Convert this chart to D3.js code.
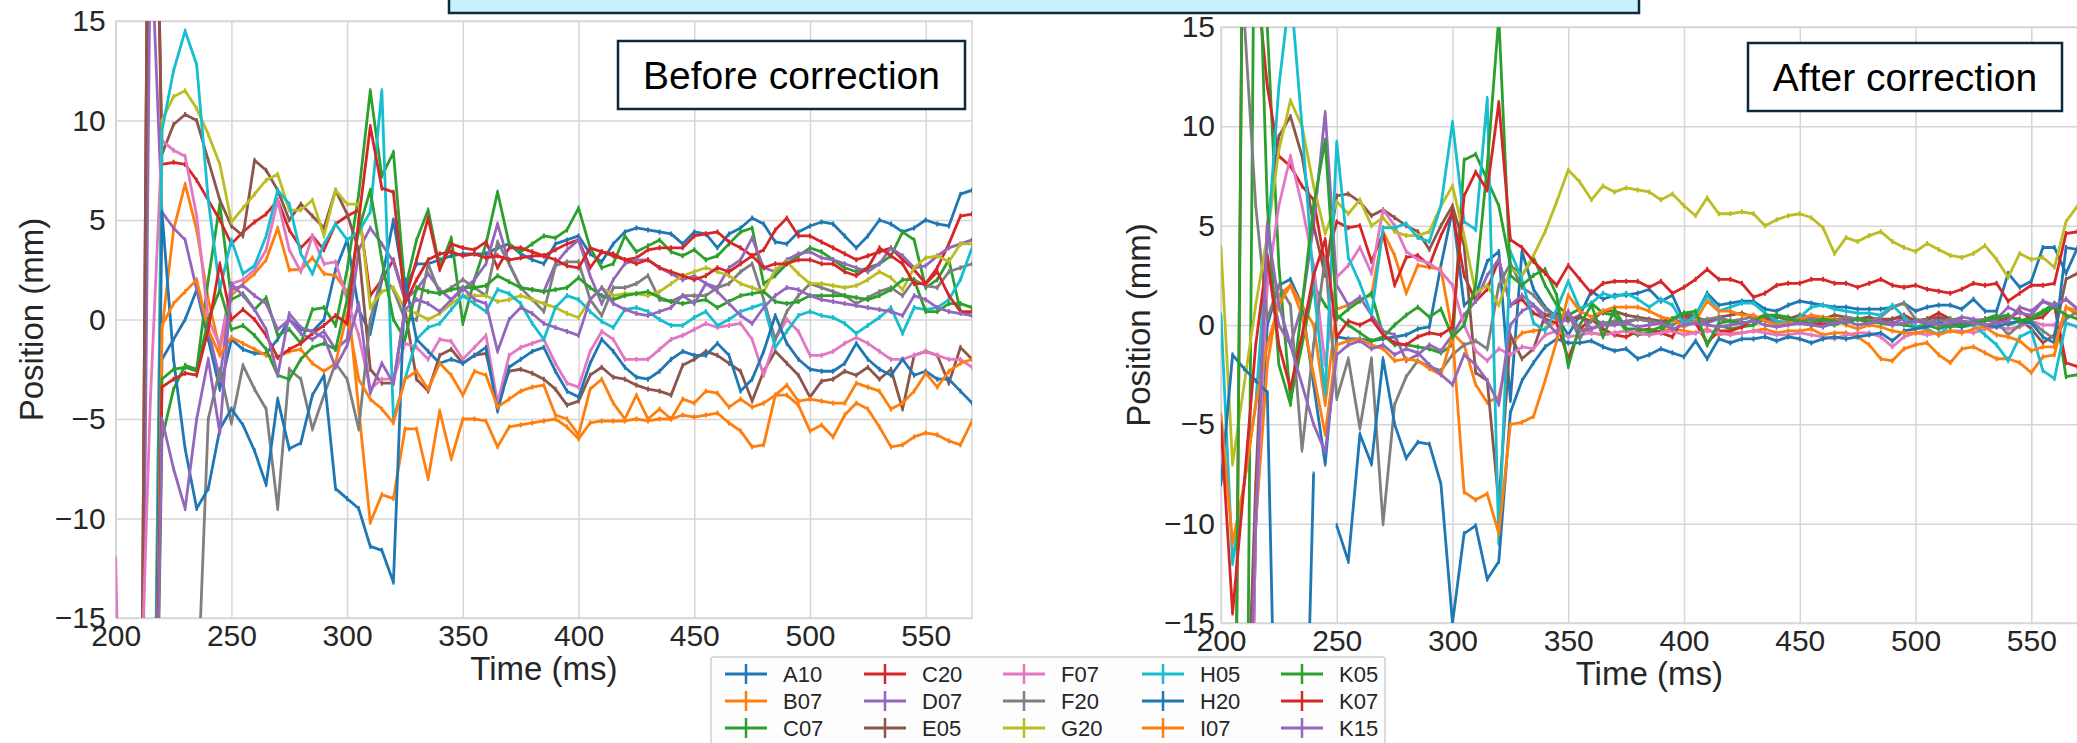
<!DOCTYPE html>
<html><head><meta charset="utf-8">
<script src="https://cdn.jsdelivr.net/npm/d3@7"></script>
<style>html,body{margin:0;padding:0;background:#fff;overflow:hidden}svg{display:block;font-family:"Liberation Sans",Arial,Helvetica,sans-serif}</style>
</head><body><svg id="c" width="2077" height="743"></svg>
<script>
const TIME = [200,205,210,215,220,225,230,235,240,245,250,255,260,265,270,275,280,285,290,295,300,305,310,315,320,325,330,335,340,345,350,355,360,365,370,375,380,385,390,395,400,405,410,415,420,425,430,435,440,445,450,455,460,465,470,475,480,485,490,495,500,505,510,515,520,525,530,535,540,545,550,555,560,565,570];
const SERIES = ["A10","B07","C07","C20","D07","E05","F07","F20","G20","H05","H20","I07","K05","K07","K15"];
const COLORS = ["#1f77b4","#ff7f0e","#2ca02c","#d62728","#9467bd","#8c564b","#e377c2","#7f7f7f","#bcbd22","#17becf","#1f77b4","#ff7f0e","#2ca02c","#d62728","#9467bd"];
const X_TICKS = [200,250,300,350,400,450,500,550];
const Y_TICKS = [-15,-10,-5,0,5,10,15];
const PANEL_TITLES = ["Before correction","After correction"];

// ---------- Before correction ----------
const before_A10 = [-40,-40,-40,-40,-2.0,-1.0,0.0,1.5,-1.0,-3.5, -1.0,-1.5,-1.7,-1.7,-1.0,0.0,-0.5,-0.6,0.0,2.5, 4.0,0.5,-0.7,2.0,5.0,1.5,2.8,2.8,3.0,3.2, 3.3,3.3,3.3,3.6,3.8,3.3,3.0,2.8,3.8,4.0, 4.2,3.3,2.9,3.8,4.4,4.6,4.5,4.4,4.3,3.8, 4.4,4.3,3.6,4.3,4.6,5.1,4.8,3.9,3.8,4.4, 4.7,4.9,4.8,4.2,3.6,4.2,5.0,4.8,4.4,4.6, 5.0,4.8,4.7,6.3,6.5];
const before_B07 = [-40,-40,-40,-40,-0.5,4.5,6.8,4.5,1.0,-1.5, 1.2,1.8,2.3,3.0,4.6,2.5,2.5,3.1,2.3,2.2, 1.4,-4.5,-10.2,-8.8,-9.0,-5.5,-5.5,-8.0,-4.6,-7.0, -5.0,-5.0,-5.1,-6.4,-5.4,-5.3,-5.2,-5.1,-5.0,-5.4, -6.0,-5.2,-5.1,-5.1,-5.1,-5.0,-5.1,-5.0,-5.0,-4.8, -4.9,-4.8,-4.7,-5.2,-5.6,-6.4,-6.3,-3.8,-3.8,-4.3, -5.6,-5.3,-5.9,-4.8,-4.2,-4.5,-5.4,-6.4,-6.3,-5.9, -5.7,-5.8,-6.1,-6.3,-5.1];
const before_C07 = [-40,-40,-40,-40,-6.0,-3.5,-2.3,-2.5,2.0,5.8, 1.0,1.3,0.5,1.1,-0.8,-0.5,-1.2,0.5,0.6,-0.3, 2.5,6.3,11.5,7.2,8.4,1.5,4.0,5.5,2.6,4.1, -0.2,2.0,3.8,6.4,3.8,3.4,3.8,4.2,4.1,4.5, 5.6,3.6,2.6,2.8,4.2,3.4,3.7,4.0,3.4,3.2, 3.5,3.0,3.2,3.8,4.4,4.6,1.8,2.2,2.8,3.2, 3.6,3.4,3.0,2.6,2.4,2.6,2.8,3.2,4.4,4.0, 1.6,2.0,3.0,0.4,0.2];
const before_C20 = [-40,-40,-40,40,7.8,7.9,7.8,7.0,6.0,5.0, 3.8,4.4,4.9,5.3,6.0,4.5,3.6,4.2,3.5,4.8, 5.2,5.5,1.2,2.0,3.0,1.0,3.0,5.1,2.5,3.8, 3.6,3.5,3.9,2.6,3.6,3.6,3.4,3.2,3.5,3.8, 4.0,2.6,3.4,3.3,3.0,3.1,3.5,3.6,3.6,3.6, 4.2,4.3,4.4,3.9,3.6,3.2,3.5,4.5,5.1,4.2, 4.2,3.9,3.6,3.3,3.0,3.2,3.4,3.6,3.0,2.5, 1.8,2.6,3.8,5.2,5.3];
const before_D07 = [-40,-40,-40,20,5.4,4.6,4.0,1.5,-0.5,-3.0, 1.5,1.7,1.2,0.8,-0.5,0.0,-0.7,-1.0,-0.6,-1.5, -1.0,3.5,4.6,3.8,2.9,1.0,1.5,2.3,1.5,1.0, 1.5,2.0,2.8,4.8,2.8,1.6,1.5,1.4,2.8,3.5, 4.0,2.2,0.8,2.0,2.8,3.0,3.0,2.6,2.3,2.0, 2.2,1.8,1.6,2.6,3.0,4.1,2.6,2.4,3.0,3.3, 3.4,3.1,3.0,2.8,2.6,2.4,2.8,3.6,3.2,2.6, 2.7,3.2,3.6,3.8,4.0];
const before_E05 = [-40,-40,-40,40,8.3,9.8,10.3,10.0,8.0,6.0, 4.7,4.2,8.0,7.5,6.5,5.0,5.8,5.2,4.6,6.5, 5.3,3.5,-2.5,-3.2,-3.2,0.5,-3.0,-3.6,-1.8,-1.5, -2.2,-1.8,-1.7,-4.2,-2.6,-2.5,-2.7,-3.0,-3.5,-4.3, -4.1,-2.8,-2.4,-2.9,-3.0,-3.3,-3.5,-3.6,-3.8,-2.3, -2.0,-1.6,-1.8,-2.2,-2.6,-4.1,-2.6,-1.6,-2.2,-2.8, -3.9,-3.1,-3.0,-2.6,-2.8,-2.4,-3.0,-2.5,-4.5,-1.8, -1.6,-1.8,-3.2,-1.4,-2.0];
const before_F07 = [-12,-40,-22,-4,9.0,8.5,8.2,5.2,0.0,-1.3, 1.8,2.0,2.5,3.5,6.0,3.5,2.4,4.2,2.8,2.9, 1.0,-0.8,-3.5,-3.0,-3.0,-1.2,-1.4,-2.0,-1.0,-1.1, -2.0,-1.4,-0.8,-4.2,-1.8,-1.4,-1.2,-1.0,-2.2,-3.2, -3.4,-1.6,-0.6,-1.0,-2.0,-2.0,-2.0,-1.5,-1.0,-0.8, -0.5,-0.2,-0.4,-0.3,-0.2,-1.0,-2.8,-1.0,0.0,-0.6, -1.8,-1.8,-1.6,-1.2,-0.9,-1.2,-1.6,-2.0,-2.0,-1.8, -1.6,-1.8,-2.0,-2.0,-2.4];
const before_F20 = [-40,-40,-40,-40,-40,-40,-40,-20,-5.0,-2.5, -5.2,-2.3,-3.5,-4.5,-9.5,-2.5,-3.0,-5.5,-3.8,-2.2, -3.0,-5.5,0.0,2.2,1.5,0.0,0.0,2.8,1.3,1.6, 2.0,1.6,1.2,3.9,2.8,1.6,1.0,0.4,2.7,2.9, 2.9,1.0,0.2,1.6,1.6,1.8,2.2,1.0,0.9,1.2, 1.2,1.2,1.6,1.8,2.4,2.8,1.0,-1.0,0.4,1.2, 1.8,1.6,1.4,1.2,0.8,1.1,1.4,1.6,1.2,2.0, 1.7,1.6,2.4,2.6,2.8];
const before_G20 = [-40,-40,-40,-40,10.0,11.2,11.5,10.6,9.3,7.8, 4.9,5.6,6.3,7.0,7.3,5.5,5.5,6.0,4.2,6.5, 5.8,5.8,0.6,1.4,1.6,0.5,0.3,0.0,0.3,0.8, 1.2,1.2,1.2,0.9,1.0,1.2,1.0,0.8,0.6,0.3, 0.1,1.0,1.6,1.2,1.3,1.3,1.2,1.4,1.8,2.2, 2.4,2.6,2.4,2.2,1.8,1.6,1.4,2.5,2.9,2.3, 1.8,1.8,1.7,1.6,1.7,2.0,2.4,2.1,1.5,2.6, 3.1,3.2,2.9,3.8,3.8];
const before_H05 = [-40,-40,-40,-40,9.5,12.5,14.5,12.8,6.0,1.5, 4.0,2.3,2.7,4.2,6.5,5.8,3.3,2.3,3.8,4.8, 4.0,4.4,5.4,11.5,-5.0,-3.0,-1.0,-0.4,-0.2,0.5, 1.2,0.8,0.4,1.5,1.3,0.8,-0.2,-1.0,0.6,1.2, 1.0,0.4,-0.1,-0.4,0.5,0.6,0.4,0.0,-0.3,-0.3, 0.1,0.4,-0.3,0.0,0.4,0.6,0.8,-1.4,-0.6,0.2, 0.4,0.2,0.1,-0.2,-0.7,-0.3,0.1,0.6,-0.7,0.6, 0.5,0.6,1.0,2.0,3.6];
const before_H20 = [-40,-40,-40,-40,5.4,-2.0,-6.5,-9.5,-8.5,-5.5, -4.5,-5.3,-6.6,-8.3,-4.0,-6.5,-6.2,-3.8,-2.8,-8.5, -9.0,-9.5,-11.4,-11.6,-13.2,2.0,-1.0,-1.6,-2.2,-2.0, -2.2,-1.8,-1.4,-4.6,-2.4,-2.0,-1.6,-1.4,-2.6,-3.6, -3.9,-2.2,-1.0,-1.6,-2.4,-2.9,-3.0,-2.6,-2.0,-1.6, -1.8,-1.8,-1.2,-1.8,-3.6,-3.0,-1.6,0.2,-1.2,-2.0, -2.5,-2.6,-2.6,-2.2,-1.2,-2.0,-2.5,-2.8,-2.0,-2.8, -2.6,-3.0,-3.0,-3.6,-4.2];
const before_I07 = [-40,-40,-40,-40,-0.3,0.8,1.4,2.0,-0.5,-1.8, -0.9,-1.2,-1.5,-1.8,-1.9,-1.6,-1.5,-2.2,-2.6,-2.2, 0.3,-3.0,-4.0,-4.5,-5.2,-3.0,-2.6,-3.5,-2.2,-2.8, -3.8,-2.6,-2.8,-4.4,-4.0,-3.6,-3.4,-3.3,-4.8,-5.0, -5.8,-3.5,-3.0,-4.2,-5.0,-3.8,-5.0,-4.5,-5.0,-4.0, -4.2,-3.6,-3.7,-4.4,-4.0,-4.4,-4.2,-3.8,-3.3,-4.1, -4.0,-4.1,-4.2,-4.2,-3.2,-3.4,-3.6,-4.5,-4.2,-3.6, -2.7,-3.4,-2.6,-2.2,-2.0];
const before_K05 = [-40,-40,-40,-40,-3.0,-2.5,-2.4,-2.6,0.0,1.5, -0.5,-0.3,-0.8,-1.5,-2.8,-3.0,-2.0,-1.4,-1.2,-1.5, 1.0,4.5,6.5,3.0,0.0,-1.0,1.6,1.4,1.3,1.5, 1.6,1.6,1.7,2.2,1.9,1.6,1.5,1.4,1.5,1.6, 2.1,1.6,1.2,1.0,1.2,1.3,1.4,1.1,0.9,0.8, 0.9,1.0,0.6,0.9,1.2,1.3,1.4,0.9,0.8,0.9, 1.2,1.2,1.2,1.2,1.1,1.0,1.2,1.5,2.0,2.0, 0.4,0.4,0.8,0.8,0.6];
const before_K07 = [-40,-40,-40,-40,-3.4,-3.0,-2.7,-2.8,-0.5,2.8, 0.0,0.5,0.0,-0.8,-1.9,-1.5,-1.2,-0.7,-0.3,0.2, -0.2,5.0,9.7,6.6,6.4,0.8,2.0,3.0,3.3,3.4, 3.2,3.3,3.1,3.2,3.0,3.1,3.2,3.2,3.0,2.7, 2.6,3.6,3.4,3.2,3.0,2.8,3.0,2.6,2.4,2.2, 2.0,2.2,2.6,2.4,2.8,3.2,2.6,2.8,2.8,3.0, 3.0,2.8,2.8,2.4,2.2,2.6,3.6,3.2,2.8,1.8, 1.8,2.4,1.2,0.4,0.4];
const before_K15 = [-40,-40,-40,-40,-5.0,-7.5,-9.5,-5.0,-2.0,-5.7, 1.8,1.2,0.5,-0.5,-2.8,0.3,-0.4,-0.6,-0.9,-2.4, -1.3,0.8,-3.7,-2.2,-3.2,0.5,1.0,0.8,0.4,1.0, 1.6,1.0,0.8,-1.6,0.0,0.6,0.3,-0.2,-0.4,-0.6, -0.8,1.0,1.6,0.8,0.5,0.3,0.2,0.4,0.6,1.2, 0.8,1.8,1.4,0.8,0.2,-0.2,0.6,1.2,1.6,1.5, 1.2,1.0,0.9,0.8,0.7,0.6,0.5,0.4,0.2,1.2, 1.0,0.6,0.4,0.3,0.2];

// ---------- After correction ----------
const after_A10 = [-40,-40,-40,-10,0.0,2.0,2.3,1.0,-3.0,-7.0, -0.6,-0.7,-0.7,-0.8,-0.7,-0.6,-0.5,-0.2,-0.1,3.0, 5.8,1.0,1.5,3.2,3.7,-3.8,3.7,1.8,0.9,0.4, -0.5,0.5,1.7,1.3,1.5,1.5,1.6,1.8,1.2,1.5, 0.2,0.5,1.6,1.0,1.1,1.2,1.2,0.8,0.7,1.0, 1.2,1.1,1.0,0.9,0.9,0.8,0.8,0.8,0.9,1.1, 0.7,0.9,1.0,1.0,0.8,1.3,0.7,0.7,2.6,1.9, 2.2,3.9,3.9,2.6,3.9];
const after_B07 = [-40,-40,-30,-10,-2.0,1.5,2.0,1.0,0.0,-4.0, 0.8,1.0,1.3,1.5,4.7,3.5,1.6,3.0,2.9,2.8, -0.4,-1.0,-3.0,-3.9,-3.6,-1.0,-0.4,-0.3,-0.2,0.2, 0.4,-0.1,-0.4,-0.5,-0.4,-0.3,-0.4,-0.5,-0.3,-0.2, -0.3,-0.4,-0.2,-0.5,-0.4,-0.4,-0.3,-0.2,-0.4,-0.3, -0.3,-0.2,-0.5,-0.4,-0.4,-0.6,-1.0,-1.7,-1.8,-1.2, -1.0,-0.9,-1.5,-1.9,-1.2,-1.1,-1.4,-1.7,-1.7,-1.9, -2.4,-1.6,-1.5,0.9,0.5];
const after_C07 = [-40,-40,-40,30,15,3.0,-3.8,-1.0,2.0,1.0, 0.3,0.8,1.2,1.6,-0.5,-1.0,-1.0,-1.1,-1.2,-1.4, -1.0,8.3,8.6,7.3,6.0,3.0,2.5,3.4,2.0,1.0, 0.5,0.8,1.1,0.6,0.5,-0.3,-0.5,-0.4,-0.3,0.3, 0.6,0.5,-1.0,0.0,-0.2,-0.1,0.0,0.3,0.5,0.4, 0.2,0.3,0.1,0.0,0.2,0.3,0.1,0.2,0.1,0.0, -0.1,0.0,-0.2,0.0,0.1,0.2,0.3,0.5,0.0,0.2, 0.4,0.7,1.1,-2.6,-2.5];
const after_C20 = [-40,-40,30,18,12,8.5,8.0,7.0,6.3,3.0, 5.2,4.9,5.0,3.2,4.6,2.0,3.4,3.5,3.0,4.5, 5.7,2.5,1.2,1.8,3.3,1.0,1.3,0.6,0.3,0.1, -1.7,-0.2,0.3,-0.2,-0.5,-0.6,-0.3,-0.2,-0.4,-0.6, 0.4,0.1,-0.9,-0.3,-0.3,-0.1,0.3,0.5,0.4,0.3, 0.1,0.0,0.1,0.3,0.3,0.3,0.1,0.3,0.3,0.5, 0.2,0.3,0.6,0.3,0.1,0.1,0.3,0.1,0.3,0.7, 0.3,0.4,1.0,-1.9,-2.1];
const after_D07 = [-40,-40,-40,-10,3.0,0.0,-1.0,1.0,5.0,10.7, 2.0,1.0,1.4,0.5,-0.3,-0.5,-1.8,-1.5,-1.0,-1.3, -0.5,0.5,1.2,2.5,3.3,1.0,1.5,1.0,0.5,0.3, 0.2,0.5,-0.2,0.1,0.1,0.2,0.3,0.2,0.1,0.3, 0.1,0.2,0.1,0.3,0.2,0.1,0.2,0.3,0.2,0.1, 0.2,0.3,0.2,0.1,0.2,0.3,0.4,0.2,0.1,0.3, 0.2,0.1,0.3,0.2,0.4,0.3,0.2,0.3,0.9,0.6, 0.5,1.2,0.9,1.3,0.8];
const after_E05 = [-16,-30,-25,-8,5,9.5,10.5,8.5,5.0,2.5, 6.5,6.6,6.2,5.5,5.8,5.4,5.0,4.7,3.8,5.0, 6.0,4.0,-2.4,-2.8,-9.0,-0.5,-1.7,-1.2,0.5,0.6, 0.3,0.4,0.2,0.7,0.7,0.5,0.4,0.3,0.2,0.3, 0.5,0.4,0.2,0.4,0.5,0.6,0.4,0.3,0.4,0.3, 0.5,0.4,0.3,0.5,0.4,0.3,0.4,0.2,0.3,0.4, 0.2,0.3,0.4,0.3,0.2,0.1,0.3,0.2,0.4,0.3, -0.2,-0.9,-0.5,2.3,2.6];
const after_F07 = [-40,-40,-40,-10,2.0,6.0,8.5,6.0,3.0,-2.0, 2.4,3.0,3.9,2.6,5.8,5.0,3.7,3.3,3.1,2.7, 2.0,0.0,-1.3,-1.8,-1.2,-1.5,-1.1,-1.2,-0.5,-0.3, -0.6,-0.5,-0.4,-0.5,-0.4,-0.3,-0.4,-0.5,-0.4,-0.3, -0.5,-0.4,-0.3,-0.4,-0.5,-0.4,-0.3,-0.4,-0.5,-0.5, -0.4,-0.5,-0.6,-0.7,-0.5,-0.4,-0.4,-0.6,-1.1,-0.6, -0.4,-0.5,-0.4,-0.3,-0.3,-0.4,-0.2,-0.1,-0.2,-0.1, 0.2,0.0,0.0,0.1,-0.1];
const after_F20 = [25,20,15.5,6.0,0.3,2.0,1.0,-6.3,-1.0,3.4, -3.7,-1.7,-5.2,-1.7,-10.0,-4.0,-2.6,-1.8,-2.1,-2.3, -1.5,-1.0,-0.8,-1.2,2.0,3.1,1.9,1.5,0.8,0.4, 0.6,-0.7,0.3,0.1,0.2,0.1,0.3,0.2,0.1,0.0, 0.3,0.2,0.3,0.4,0.2,0.3,0.4,0.2,0.1,0.2, 0.3,0.4,0.3,0.2,0.4,0.3,0.2,0.4,0.9,1.1, 0.3,0.2,0.1,0.3,0.2,0.1,0.3,0.2,-0.5,0.0, 0.2,-0.3,-0.7,0.3,0.7];
const after_G20 = [3.9,-7.0,-3.0,1.0,4.5,8.8,11.3,10.0,7.0,4.6, 6.2,5.6,6.3,5.0,5.4,4.7,4.5,4.5,4.7,6.0, 7.0,4.5,1.6,2.0,1.0,2.8,2.5,3.5,4.7,6.2, 7.8,7.2,6.3,7.0,6.7,6.9,6.8,6.7,6.3,6.6, 6.0,5.5,6.4,5.6,5.6,5.7,5.6,5.0,5.3,5.5, 5.6,5.4,4.9,3.6,4.4,4.2,4.5,4.7,4.2,3.9, 3.7,4.1,3.8,3.5,3.4,3.6,4.0,3.3,2.4,3.6, 3.3,3.4,2.9,5.2,6.0];
const after_H05 = [0.5,-12.0,-8.0,-4.0,4.0,12.0,17,10.0,2.0,-3.5, 9.2,3.4,2.1,0.5,4.9,4.9,5.1,4.4,4.2,6.0, 10.2,5.2,4.8,11.4,-11.0,3.7,2.3,0.1,-0.3,0.8, 2.2,0.8,1.1,1.6,1.4,1.6,1.3,0.9,1.3,1.0, 0.0,0.5,1.5,0.7,0.9,1.1,1.1,0.6,0.2,0.1, 0.4,0.9,1.0,0.8,0.7,0.6,0.6,0.5,1.0,0.4, -0.1,-0.2,-0.5,0.0,-0.1,0.0,-0.5,-1.0,-1.8,-0.6, -0.3,-2.3,-2.7,0.1,-0.1];
const after_H20 = [-8.0,-1.5,-2.2,-2.8,-3.4,-30,null,-30,-7.5,null, -10.1,-11.9,-5.5,-7.0,-1.7,-5.0,-6.7,-5.9,-6.0,-8.0, -15.0,-10.5,-10.1,-12.8,-11.9,-4.4,-2.8,-1.9,-1.1,-0.7, -0.9,-0.9,-0.8,-1.1,-1.3,-1.2,-1.7,-1.5,-1.2,-1.4, -1.6,-0.8,-1.7,-0.7,-0.9,-0.7,-0.7,-0.6,-0.8,-0.6, -0.7,-0.9,-0.7,-0.6,-0.7,-0.6,-0.5,-0.4,-0.8,-0.3, -0.2,-0.1,0.1,0.0,-0.1,0.1,0.0,-0.1,0.1,0.2, 0.1,-0.6,-0.9,3.9,3.8];
const after_I07 = [-4.5,-11.0,-8.0,-4.0,-1.0,1.0,2.0,0.5,-2.5,-5.5, -1.0,-0.8,-0.7,-1.0,-1.2,-1.8,-1.7,-1.8,-2.2,-2.5, -0.5,-8.4,-8.8,-8.5,-10.5,-5.0,-4.9,-4.6,-2.8,-0.8, 1.5,0.7,0.4,0.7,0.9,0.9,0.9,0.7,0.4,0.3, -0.1,0.2,1.2,0.7,0.7,0.5,0.5,0.2,0.0,0.1, 0.3,0.5,0.4,0.3,0.0,-0.2,0.0,-0.1,-0.3,-0.4, -0.4,-0.3,-0.5,-0.3,-0.4,-0.2,-0.1,-0.5,-0.6,-0.8, -1.3,-1.1,-1.1,0.9,0.7];
const after_K05 = [-40,-40,30,25,6.0,-2.0,-4.0,1.0,6.0,9.3, 0.5,0.0,-0.4,-0.8,-0.6,0.0,0.5,0.9,0.4,0.8, -0.6,0.0,2.0,8.0,15.5,2.5,2.0,2.5,2.8,1.5, -2.1,0.0,1.0,-0.6,0.8,-0.2,-0.2,-0.3,-0.1,0.3, 0.6,0.7,-1.0,0.1,0.2,0.1,0.2,0.5,0.5,0.3, 0.2,0.1,0.3,0.2,0.1,0.3,0.2,0.1,0.0,0.1, 0.2,0.1,0.0,-0.1,0.0,0.1,0.2,0.4,0.5,0.2, 0.3,0.6,0.9,0.5,0.3];
const after_K07 = [-5.0,-14.5,-8.0,-1.0,3.5,-1.0,-3.2,-0.5,2.5,4.3, -0.6,0.2,0.0,0.3,-0.5,-0.9,-1.0,-0.6,-0.4,-0.5, -0.1,6.5,7.7,6.8,11.2,4.3,3.9,3.2,2.6,2.0, 3.0,2.3,1.6,2.1,2.2,2.2,2.2,1.9,2.2,1.6, 1.9,2.3,2.8,2.3,2.3,2.1,1.4,1.6,2.0,2.1, 2.1,2.3,2.3,2.1,2.1,1.9,2.1,2.3,2.0,1.9, 2.0,1.8,1.7,1.6,1.8,2.1,2.0,2.1,1.2,1.6, 2.0,2.0,2.1,4.6,4.7];
const after_K15 = [-40,-40,-30,-10,5.0,1.0,-1.0,-3.0,-5.0,-6.4, -1.5,-1.0,-0.8,-1.2,-1.0,-1.5,-1.2,-1.4,-2.0,-2.5, -3.0,-1.5,-2.0,-2.8,-4.0,0.0,0.7,1.0,0.2,-0.4, 0.7,-0.3,-0.2,0.0,0.0,0.1,-0.1,0.0,0.1,-0.2, 0.0,0.1,0.0,-0.1,0.0,0.1,0.2,0.0,-0.1,0.0, 0.1,0.0,-0.1,0.1,0.2,0.0,0.1,0.2,0.0,0.1, 0.2,0.1,0.0,0.1,0.2,0.1,0.0,0.1,0.2,0.9, 0.7,1.2,1.0,1.3,0.8];

const BEFORE = [before_A10,before_B07,before_C07,before_C20,before_D07,before_E05,before_F07,before_F20,before_G20,before_H05,before_H20,before_I07,before_K05,before_K07,before_K15];
const AFTER = [after_A10,after_B07,after_C07,after_C20,after_D07,after_E05,after_F07,after_F20,after_G20,after_H05,after_H20,after_I07,after_K05,after_K07,after_K15];

const svg = d3.select("#c");
const defs = svg.append("defs");
const TXT = "#262626", GRID = "#d6d6d6";

function panel(cfg, data, title) {
  const x = d3.scaleLinear().domain([200, 570]).range([cfg.x0, cfg.x1]);
  const y = d3.scaleLinear().domain([-15, 15]).range([cfg.y1, cfg.y0]);
  const W = cfg.x1 - cfg.x0, H = cfg.y1 - cfg.y0;
  defs.append("clipPath").attr("id", "clip" + cfg.id).append("rect")
    .attr("x", cfg.x0).attr("y", cfg.y0).attr("width", W).attr("height", H);

  const fmt = d => (d < 0 ? "\u2212" + Math.abs(d) : String(d));
  const gx = svg.append("g").attr("transform", `translate(0,${cfg.y1})`)
    .call(d3.axisBottom(x).tickValues(X_TICKS).tickSize(-H).tickPadding(7).tickFormat(fmt));
  const gy = svg.append("g").attr("transform", `translate(${cfg.x0},0)`)
    .call(d3.axisLeft(y).tickValues(Y_TICKS).tickSize(-W).tickPadding(cfg.ypad).tickFormat(fmt));
  [gx, gy].forEach(g => {
    g.select(".domain").remove();
    g.selectAll("line").attr("stroke", GRID).attr("stroke-width", 1.5);
    g.selectAll("text").attr("fill", TXT).style("font-size", "30px")
      .style("font-family", '"Liberation Sans", Arial, sans-serif');
  });
  svg.append("rect").attr("x", cfg.x0).attr("y", cfg.y0).attr("width", W).attr("height", H)
    .attr("fill", "none").attr("stroke", GRID).attr("stroke-width", 1.5);

  const line = d3.line().defined(d => d[1] != null)
    .x(d => x(d[0])).y(d => y(d[1]));
  const lg = svg.append("g").attr("clip-path", `url(#clip${cfg.id})`);
  data.forEach((vals, i) => {
    const pts = TIME.map((t, k) => [t, vals[k]]);
    lg.append("path").datum(pts).attr("d", line).attr("fill", "none")
      .attr("stroke", COLORS[i]).attr("stroke-width", 2.8).attr("stroke-linejoin", "round");
    lg.append("g").selectAll("line")
      .data(pts.filter(p => p[1] != null && p[1] > -15 && p[1] < 15)).join("line")
      .attr("x1", p => x(p[0])).attr("x2", p => x(p[0]))
      .attr("y1", p => y(p[1]) - 2.5).attr("y2", p => y(p[1]) + 2.5)
      .attr("stroke", COLORS[i]).attr("stroke-width", 2);
  });

  svg.append("text").attr("x", (cfg.x0 + cfg.x1) / 2).attr("y", cfg.xlab)
    .attr("text-anchor", "middle").attr("fill", TXT).style("font-size", "33px").text("Time (ms)");
  svg.append("text").attr("transform", `translate(${cfg.ylabX},${(cfg.y0 + cfg.y1) / 2}) rotate(-90)`)
    .attr("text-anchor", "middle").attr("fill", TXT).style("font-size", "33px").text("Position (mm)");

  const b = cfg.box;
  svg.append("rect").attr("x", b[0]).attr("y", b[1]).attr("width", b[2]).attr("height", b[3])
    .attr("fill", "#fff").attr("stroke", "#0d2a3c").attr("stroke-width", 2.5);
  svg.append("text").attr("x", b[0] + b[2] / 2).attr("y", b[4]).attr("text-anchor", "middle")
    .attr("fill", "#000").style("font-size", "39px").text(title);
}

panel({id: "L", x0: 115.7, x1: 972, y0: 21, y1: 618, ypad: 10, xlab: 680, ylabX: 43,
       box: [618, 41, 347, 68, 89]}, BEFORE, PANEL_TITLES[0]);
panel({id: "R", x0: 1221, x1: 2077.6, y0: 27, y1: 623, ypad: 6, xlab: 685, ylabX: 1150,
       box: [1748, 43, 314, 68, 91]}, AFTER, PANEL_TITLES[1]);

// banner (cropped at top of slide)
svg.append("rect").attr("x", 449).attr("y", -12).attr("width", 1190).attr("height", 25)
  .attr("fill", "#c6f0fc").attr("stroke", "#0d2a3c").attr("stroke-width", 2.5);

// legend
const lgd = svg.append("g");
lgd.append("rect").attr("x", 711).attr("y", 657).attr("width", 674).attr("height", 100)
  .attr("rx", 3).attr("fill", "#fdfdfd").attr("stroke", "#cfcfcf").attr("stroke-width", 1.5);
const colX = [725, 864, 1003, 1142, 1281], rowY = [674, 701, 728];
SERIES.forEach((s, i) => {
  const cx = colX[Math.floor(i / 3)], cy = rowY[i % 3];
  const it = lgd.append("g");
  it.append("line").attr("x1", cx).attr("x2", cx + 42).attr("y1", cy).attr("y2", cy)
    .attr("stroke", COLORS[i]).attr("stroke-width", 2.8);
  it.append("line").attr("x1", cx + 21).attr("x2", cx + 21).attr("y1", cy - 10).attr("y2", cy + 10)
    .attr("stroke", COLORS[i]).attr("stroke-width", 2.5);
  it.append("text").attr("x", cx + 58).attr("y", cy).attr("dy", "0.36em").attr("fill", TXT)
    .style("font-size", "22px").text(s);
});
</script></body></html>
